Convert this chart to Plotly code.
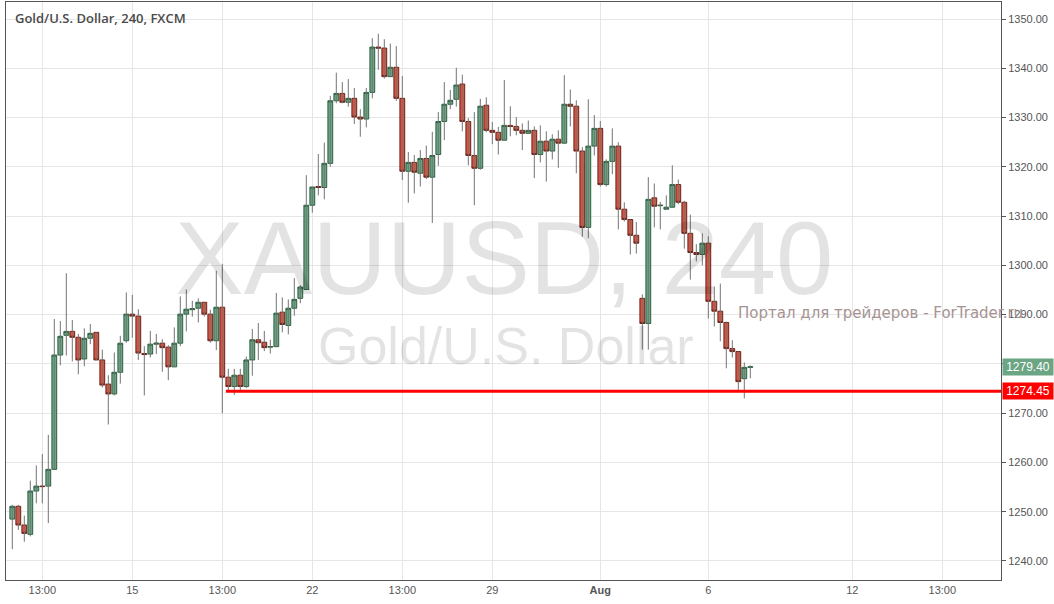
import plotly.graph_objects as go

# ---- data (4h candles) ----
opens = [1248.5, 1251.1, 1247.3, 1245.4, 1254.2, 1255.2, 1255.2, 1258.6, 1281.8, 1285.8,
         1286.6, 1285.4, 1281.0, 1285.2, 1286.4, 1280.8, 1275.9, 1273.9, 1278.3, 1284.7,
         1290.1, 1289.7, 1282.1, 1282.0, 1284.0, 1284.2, 1283.4, 1279.4, 1284.2, 1290.1,
         1291.0, 1291.3, 1292.5, 1290.1, 1284.7, 1291.5, 1277.3, 1275.4, 1277.7, 1275.4,
         1280.8, 1284.9, 1284.4, 1283.4, 1283.5, 1290.5, 1287.8, 1291.3, 1293.3, 1295.1,
         1312.2, 1316.0, 1315.8, 1320.7, 1333.4, 1334.9, 1333.1, 1333.9, 1330.1, 1329.7,
         1335.1, 1344.3, 1344.1, 1338.3, 1340.2, 1333.9, 1319.1, 1320.9, 1318.7, 1321.7,
         1317.9, 1322.5, 1329.2, 1332.7, 1333.7, 1336.8, 1329.2, 1322.3, 1319.7, 1332.5,
         1327.4, 1327.0, 1325.4, 1328.4, 1328.2, 1327.4, 1326.8, 1327.4, 1322.5, 1325.2,
         1323.2, 1325.6, 1324.8, 1332.7, 1332.3, 1323.2, 1307.7, 1324.2, 1327.8, 1316.4,
         1321.1, 1324.2, 1311.4, 1309.3, 1306.1, 1293.3, 1288.2, 1313.7, 1312.1, 1311.4,
         1311.8, 1316.4, 1312.8, 1306.5, 1302.6, 1302.2, 1304.5, 1292.7, 1290.7, 1288.4,
         1283.1, 1282.5, 1277.0, 1279.3]
highs = [1251.4, 1251.4, 1249.2, 1256.3, 1259.4, 1261.7, 1265.6, 1289.1, 1288.7, 1298.4,
         1288.9, 1286.1, 1287.2, 1288.1, 1286.4, 1282.9, 1277.7, 1282.3, 1285.7, 1294.5,
         1294.0, 1291.1, 1283.6, 1286.7, 1286.1, 1285.0, 1283.8, 1287.4, 1293.7, 1295.1,
         1292.8, 1293.3, 1292.5, 1291.0, 1298.9, 1300.3, 1279.0, 1279.0, 1279.0, 1281.5,
         1287.1, 1288.3, 1286.7, 1284.9, 1294.4, 1293.5, 1293.1, 1297.4, 1296.0, 1318.3,
         1315.9, 1322.6, 1324.9, 1334.4, 1339.1, 1337.2, 1337.8, 1336.0, 1331.7, 1336.0,
         1346.1, 1347.0, 1345.9, 1345.0, 1344.5, 1338.4, 1323.0, 1322.4, 1323.4, 1324.3,
         1327.1, 1331.1, 1337.2, 1335.6, 1340.1, 1338.7, 1329.9, 1331.1, 1333.8, 1334.1,
         1329.1, 1328.1, 1337.6, 1332.3, 1330.1, 1328.8, 1329.4, 1328.2, 1328.4, 1327.2,
         1326.6, 1327.4, 1338.6, 1335.7, 1333.5, 1324.0, 1333.7, 1330.5, 1329.3, 1321.5,
         1327.8, 1325.0, 1312.8, 1309.3, 1308.8, 1294.1, 1317.9, 1316.6, 1312.9, 1314.2,
         1320.3, 1317.4, 1313.1, 1310.3, 1304.3, 1306.5, 1305.9, 1295.7, 1296.3, 1288.6,
         1284.8, 1282.5, 1280.3, 1279.7]
lows = [1242.4, 1246.3, 1243.9, 1245.0, 1251.7, 1251.7, 1247.7, 1258.6, 1279.7, 1281.7,
        1280.5, 1277.9, 1279.5, 1284.0, 1280.8, 1275.2, 1267.7, 1273.6, 1276.0, 1284.3,
        1285.3, 1280.8, 1273.6, 1281.3, 1282.0, 1278.4, 1276.7, 1279.4, 1283.6, 1286.6,
        1289.6, 1288.4, 1289.6, 1284.3, 1282.8, 1270.0, 1274.5, 1273.7, 1274.5, 1275.1,
        1277.6, 1280.8, 1282.6, 1282.1, 1283.4, 1286.4, 1286.0, 1289.8, 1292.3, 1295.1,
        1310.7, 1314.2, 1313.4, 1320.0, 1332.9, 1332.9, 1332.2, 1328.7, 1326.1, 1328.0,
        1333.9, 1339.7, 1337.9, 1338.3, 1333.4, 1317.3, 1312.7, 1314.6, 1316.0, 1317.5,
        1308.6, 1320.2, 1325.4, 1331.7, 1332.2, 1327.2, 1320.3, 1312.2, 1319.4, 1327.0,
        1324.6, 1322.5, 1325.4, 1326.2, 1326.4, 1323.4, 1326.8, 1317.7, 1320.9, 1317.0,
        1321.5, 1319.8, 1324.8, 1328.2, 1318.7, 1305.8, 1305.5, 1322.3, 1316.0, 1316.0,
        1318.5, 1307.3, 1308.9, 1302.2, 1302.4, 1282.9, 1282.9, 1307.7, 1307.3, 1311.4,
        1311.8, 1312.4, 1303.4, 1297.1, 1300.8, 1300.0, 1289.2, 1287.6, 1284.6, 1279.1,
        1281.3, 1274.3, 1273.0, 1277.1]
closes = [1251.1, 1247.3, 1245.6, 1254.2, 1255.2, 1255.1, 1258.6, 1281.8, 1285.6, 1286.6,
          1285.4, 1280.8, 1285.2, 1286.2, 1280.8, 1275.7, 1273.9, 1278.3, 1284.2, 1290.1,
          1289.7, 1282.2, 1281.9, 1284.0, 1284.2, 1283.3, 1279.4, 1284.2, 1290.1, 1291.1,
          1291.2, 1292.5, 1290.1, 1284.7, 1291.5, 1277.3, 1275.4, 1277.7, 1275.4, 1280.8,
          1284.9, 1284.3, 1283.3, 1283.5, 1290.3, 1288.0, 1291.3, 1293.1, 1295.6, 1312.2,
          1315.9, 1315.8, 1320.7, 1333.4, 1334.9, 1333.1, 1333.9, 1330.1, 1329.7, 1335.1,
          1344.3, 1344.1, 1338.3, 1340.2, 1333.9, 1319.1, 1320.9, 1318.9, 1321.7, 1317.9,
          1322.3, 1329.2, 1332.7, 1333.5, 1336.6, 1329.2, 1322.3, 1319.7, 1332.3, 1327.4,
          1327.0, 1325.4, 1328.4, 1328.2, 1327.4, 1326.8, 1327.4, 1322.5, 1325.2, 1323.2,
          1325.6, 1324.8, 1332.7, 1332.3, 1323.2, 1307.7, 1324.2, 1327.8, 1316.4, 1321.1,
          1324.2, 1311.4, 1309.3, 1306.1, 1304.5, 1288.2, 1313.4, 1312.0, 1312.2, 1311.8,
          1316.4, 1312.8, 1306.5, 1302.6, 1302.2, 1304.5, 1292.7, 1290.7, 1288.4, 1283.1,
          1282.5, 1276.4, 1279.3, 1279.4]

x_tick_vals = [5, 20, 35, 50, 65, 80, 98, 116, 140, 155]
x_tick_text = ["13:00", "15", "13:00", "22", "13:00", "29", "<b>Aug</b>", "6", "12", "13:00"]
y_tick_vals = [1240, 1250, 1260, 1270, 1280, 1290, 1300, 1310, 1320, 1330, 1340, 1350]

level_price = 1274.45
level_start = 35.6

X_RANGE = [-1.05, 164.78]
Y_RANGE = [1236.14, 1353.45]

UP_FILL, UP_LINE = "#6BA583", "#2a6140"
DN_FILL, DN_LINE = "#D75442", "#6e2218"
WICK = "#737375"
GRID = "#e6e6e6"
AXIS = "#555555"

idx = list(range(len(opens)))
body_hi = [max(o, c) for o, c in zip(opens, closes)]
body_lo = [min(o, c) for o, c in zip(opens, closes)]

wick_x, wick_y = [], []
for i, h, l in zip(idx, highs, lows):
    wick_x += [i, i, None]
    wick_y += [l, h, None]

fig = go.Figure()
fig.add_trace(go.Scatter(x=wick_x, y=wick_y, mode="lines",
                         line=dict(color=WICK, width=1),
                         hoverinfo="skip", showlegend=False))
fig.add_trace(go.Candlestick(
    x=idx, open=opens, high=body_hi, low=body_lo, close=closes,
    increasing=dict(fillcolor=UP_FILL, line=dict(color=UP_LINE, width=1)),
    decreasing=dict(fillcolor=DN_FILL, line=dict(color=DN_LINE, width=1)),
    whiskerwidth=0, showlegend=False, hoverinfo="skip"))

fig.add_shape(type="line", xref="x", yref="y",
              x0=level_start, x1=X_RANGE[1], y0=level_price, y1=level_price,
              line=dict(color="#FF0000", width=3), layer="above")

wm = "rgba(0,0,0,0.11)"
annotations = [
    dict(text="XAUUSD, 240", xref="paper", yref="paper", x=0.5, y=0.556,
         xanchor="center", yanchor="middle", showarrow=False,
         font=dict(family="Liberation Sans, Arial", size=103, color=wm)),
    dict(text="Gold/U.S. Dollar", xref="paper", yref="paper", x=0.5025, y=0.405,
         xanchor="center", yanchor="middle", showarrow=False,
         font=dict(family="Liberation Sans, Arial", size=52, color=wm)),
    dict(text="Портал для трейдеров - ForTrader.ru", xref="paper", yref="paper",
         x=0.734, y=0.462, xanchor="left", yanchor="middle", showarrow=False,
         font=dict(family="DejaVu Sans", size=15, color="#a69393")),
    dict(text="Gold/U.S. Dollar, 240, FXCM", xref="paper", yref="paper",
         x=0, y=1, xshift=7, yshift=-16, xanchor="left", yanchor="middle",
         showarrow=False,
         font=dict(family="Open Sans", size=13, color="#4a4a4a", weight=600)),
    dict(text=f"{closes[-1]:.2f}", xref="paper", yref="y", x=1, y=closes[-1],
         xanchor="left", yanchor="middle", xshift=1, showarrow=False,
         bgcolor=UP_FILL, width=48, height=14, borderpad=1,
         font=dict(family="Liberation Sans, Arial", size=12, color="white")),
    dict(text=f"{level_price:.2f}", xref="paper", yref="y", x=1, y=level_price,
         xanchor="left", yanchor="middle", xshift=1, showarrow=False,
         bgcolor="#FF0000", width=48, height=14, borderpad=1,
         font=dict(family="Liberation Sans, Arial", size=12, color="white")),
]

fig.update_layout(
    width=1054, height=604,
    margin=dict(l=6, r=53, t=2, b=24),
    paper_bgcolor="white", plot_bgcolor="white",
    boxgap=0.2, boxgroupgap=0,
    showlegend=False,
    annotations=annotations,
    font=dict(family="Liberation Sans, Arial", size=11, color=AXIS),
    xaxis=dict(range=X_RANGE, tickmode="array", tickvals=x_tick_vals, ticktext=x_tick_text,
               showgrid=True, gridcolor=GRID, gridwidth=1, zeroline=False,
               showline=True, mirror=True, linecolor=AXIS, linewidth=1,
               ticks="", tickfont=dict(size=11, color=AXIS),
               rangeslider=dict(visible=False), fixedrange=True),
    yaxis=dict(range=Y_RANGE, side="right", tickmode="array", tickvals=y_tick_vals,
               tickformat=".2f", showgrid=True, gridcolor=GRID, gridwidth=1,
               zeroline=False, showline=True, mirror=True, linecolor=AXIS, linewidth=1,
               ticks="outside", ticklen=4, tickcolor=AXIS,
               tickfont=dict(size=11, color=AXIS), fixedrange=True),
)

fig.write_html("out.html",
               config={"displayModeBar": False},
               post_script="document.body.style.margin='0';document.body.style.overflow='hidden';")
